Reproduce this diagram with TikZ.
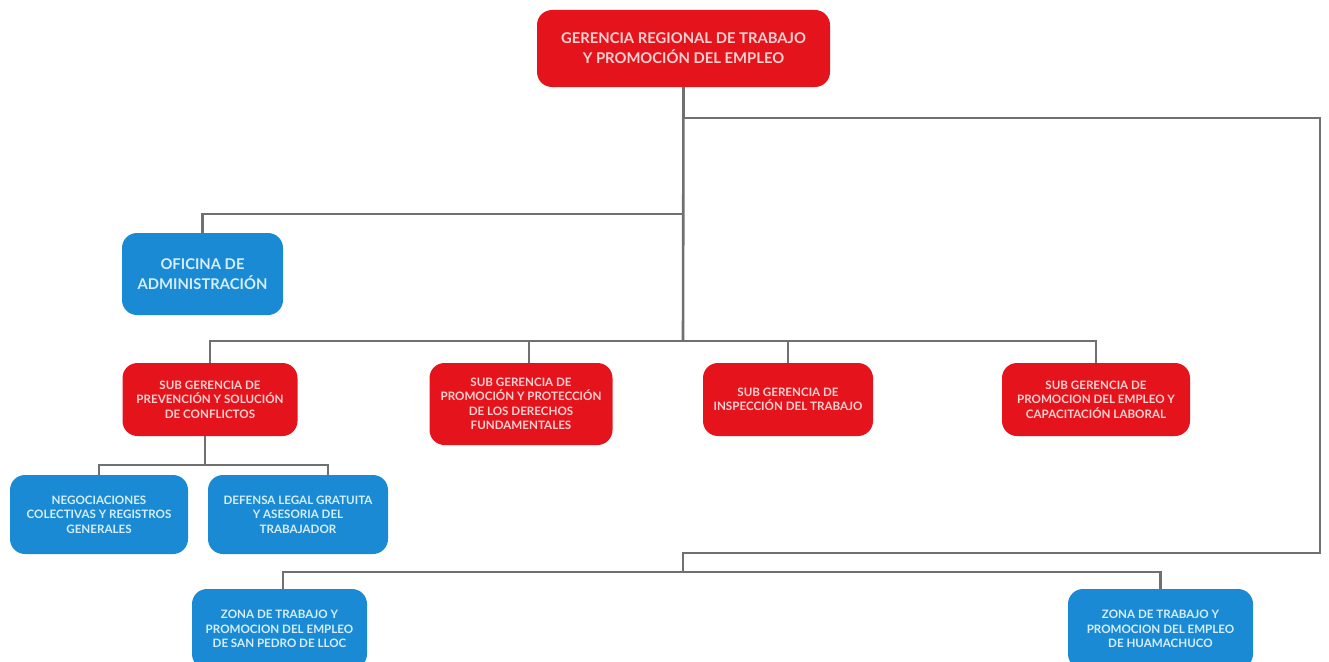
\documentclass[tikz,border=0pt]{standalone}
\usepackage{fontspec}
\setmainfont{Lato}
\definecolor{boxred}{HTML}{E5141C}
\definecolor{boxblue}{HTML}{1A8AD4}
\definecolor{linegray}{HTML}{707070}
\definecolor{redtxt}{HTML}{FBD2D2}
\definecolor{bluetxt}{HTML}{D6EEFB}
\begin{document}
\begin{tikzpicture}[x=1pt,y=-1pt,
  box/.style={rectangle, rounded corners=15pt, align=center, inner sep=0pt,
    font=\bfseries\fontsize{11.6}{14.5}\selectfont},
  bigtext/.style={font=\bfseries\fontsize{14.8}{20}\selectfont},
  redbox/.style={box, fill=boxred, text=redtxt},
  bluebox/.style={box, fill=boxblue, text=bluetxt},
  conn/.style={draw=linegray, line width=2.6pt}]
\useasboundingbox (0,0) rectangle (1329,661);
\fill[white] (0,0) rectangle (1329,661);

\coordinate (j1) at (683,118);
\coordinate (j2) at (683,214);
\coordinate (j3) at (683,341);
\coordinate (r1) at (1320,118);
\coordinate (r2) at (1320,553);
\coordinate (m1) at (683,553);
\coordinate (b1) at (683,572);
\coordinate (k1) at (205,465);

% boxes
\node[redbox, bigtext, minimum width=293, minimum height=77] (top) at (683.5,48.5)
  {GERENCIA REGIONAL DE TRABAJO\\Y PROMOCIÓN DEL EMPLEO};
\node[bluebox, bigtext, minimum width=161, minimum height=82] (ofi) at (202.5,274)
  {OFICINA DE\\ADMINISTRACIÓN};
\node[redbox, minimum width=175, minimum height=73] (sgprev) at (210,399.5)
  {SUB GERENCIA DE\\PREVENCIÓN Y SOLUCIÓN\\DE CONFLICTOS};
\node[redbox, minimum width=183, minimum height=82] (sgprom) at (521,404)
  {SUB GERENCIA DE\\PROMOCIÓN Y PROTECCIÓN\\DE LOS DERECHOS\\FUNDAMENTALES};
\node[redbox, minimum width=170, minimum height=73] (sginsp) at (788,399.5)
  {SUB GERENCIA DE\\INSPECCIÓN DEL TRABAJO};
\node[redbox, minimum width=188, minimum height=73] (sgemp) at (1096,399.5)
  {SUB GERENCIA DE\\PROMOCION DEL EMPLEO Y\\CAPACITACIÓN LABORAL};
\node[bluebox, minimum width=178, minimum height=79] (neg) at (99,514.5)
  {NEGOCIACIONES\\COLECTIVAS Y REGISTROS\\GENERALES};
\node[bluebox, minimum width=180, minimum height=79] (def) at (298,514.5)
  {DEFENSA LEGAL GRATUITA\\Y ASESORIA DEL\\TRABAJADOR};
\node[bluebox, minimum width=175, minimum height=80] (spl) at (279.5,629)
  {ZONA DE TRABAJO Y\\PROMOCION DEL EMPLEO\\DE SAN PEDRO DE LLOC};
\node[bluebox, minimum width=185, minimum height=80] (hua) at (1160.5,629)
  {ZONA DE TRABAJO Y\\PROMOCION DEL EMPLEO\\DE HUAMACHUCO};

% trunk
\draw[conn] (top.south) -- (j3);
\draw[conn] (j2) -| (ofi.north);
\draw[conn] (sgprev.north) |- (j3) -| (sgemp.north);
\draw[conn] ([xshift=8pt]sgprom.north) -- ([xshift=8pt]sgprom.north |- j3);
\draw[conn] (sginsp.north) -- (sginsp.north |- j3);
% right loop
\draw[conn] (j1) -- (r1) -- (r2) -- (m1) -- (b1);
\draw[conn] ([xshift=3.5pt]spl.north) |- (b1) -| (hua.north);
% prevencion children
\draw[conn] ([xshift=-5pt]sgprev.south) -- (k1);
\draw[conn] (neg.north) |- (k1) -| ([xshift=30pt]def.north);
\end{tikzpicture}
\end{document}
